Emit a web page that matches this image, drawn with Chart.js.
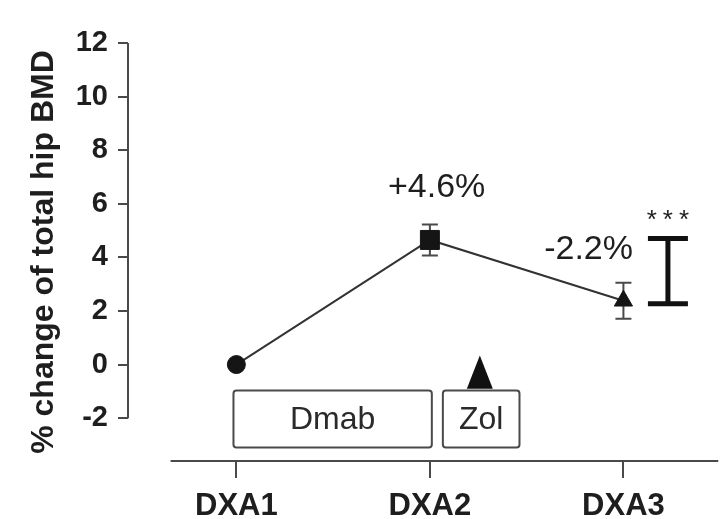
<!DOCTYPE html>
<html>
<head>
<meta charset="utf-8">
<script src="https://cdn.jsdelivr.net/npm/chart.js@4"></script>
<style>
  html, body { margin: 0; padding: 0; background: #fff; }
  #wrap { width: 722px; height: 519px; }
</style>
</head>
<body>
<div id="wrap"><canvas id="bmdChart"></canvas></div>
<script>
// Data
const visits = ['DXA1', 'DXA2', 'DXA3'];
const visitX = [1, 2, 3];
const bmdChange = [0, 4.65, 2.38];
const bmdErr = [0, 0.58, 0.67];
const yTicks = [-2, 0, 2, 4, 6, 8, 10, 12];

// Axis ranges (data units)
const xRange = [0.44, 3.45];
const yRange = [-3.6, 12];
const xAxisSpan = [0.66, 3.49];

// Annotations (data units)
const pctLabels = ['+4.6%', '-2.2%'];
const pctX = [2.035, 2.82];
const pctY = [6.6, 4.29];
const bracketX = 3.23;
const bracketY = [4.7, 2.27];
const starsY = 5.1;
const boxLabels = ['Dmab', 'Zol'];
const boxStart = [0.985, 2.067];
const boxEnd = [2.01, 2.463];
const boxY = [-0.97, -3.1];
const zolX = 2.258;
const zolY = [0.34, -0.9];

const ink = '#1e1e1e';
const grey = '#4a4a4a';
const font = '"Liberation Sans", Arial, sans-serif';

// Helper to draw the extra marks
const extras = {
    id: 'extras',
    beforeDatasetsDraw(chart) {
        const { ctx, scales: { x, y } } = chart;
        ctx.save();
        ctx.strokeStyle = grey;
        ctx.lineWidth = 2;
        // axis spines
        ctx.beginPath();
        ctx.moveTo(chart.chartArea.left, y.getPixelForValue(12));
        ctx.lineTo(chart.chartArea.left, y.getPixelForValue(-2));
        ctx.moveTo(x.getPixelForValue(xAxisSpan[0]), chart.chartArea.bottom);
        ctx.lineTo(x.getPixelForValue(xAxisSpan[1]), chart.chartArea.bottom);
        ctx.stroke();
        // error bars
        for (let i = 0; i < visitX.length; i++) {
            if (!bmdErr[i]) continue;
            const px = x.getPixelForValue(visitX[i]);
            const top = y.getPixelForValue(bmdChange[i] + bmdErr[i]);
            const bot = y.getPixelForValue(bmdChange[i] - bmdErr[i]);
            ctx.beginPath();
            ctx.moveTo(px, top); ctx.lineTo(px, bot);
            ctx.moveTo(px - 8, top); ctx.lineTo(px + 8, top);
            ctx.moveTo(px - 8, bot); ctx.lineTo(px + 8, bot);
            ctx.stroke();
        }
        ctx.restore();
    },
    afterDraw(chart) {
        const { ctx, scales: { x, y } } = chart;
        ctx.save();
        ctx.fillStyle = ink;
        ctx.textAlign = 'center';
        ctx.textBaseline = 'middle';
        ctx.font = '34px ' + font;
        for (let i = 0; i < pctLabels.length; i++) {
            ctx.fillText(pctLabels[i], x.getPixelForValue(pctX[i]), y.getPixelForValue(pctY[i]));
        }

        // significance bracket
        const bx = x.getPixelForValue(bracketX);
        const bt = y.getPixelForValue(bracketY[0]);
        const bb = y.getPixelForValue(bracketY[1]);
        ctx.strokeStyle = '#111';
        ctx.lineWidth = 5;
        ctx.beginPath();
        ctx.moveTo(bx, bt); ctx.lineTo(bx, bb);
        ctx.moveTo(bx - 20, bt); ctx.lineTo(bx + 20, bt);
        ctx.moveTo(bx - 20, bb); ctx.lineTo(bx + 20, bb);
        ctx.stroke();
        ctx.font = '26px ' + font;
        ctx.textBaseline = 'alphabetic';
        ctx.letterSpacing = '6px';
        ctx.fillText('***', bx + 3, y.getPixelForValue(starsY));
        ctx.letterSpacing = '0px';

        // treatment boxes
        ctx.lineWidth = 2;
        ctx.strokeStyle = grey;
        ctx.textBaseline = 'middle';
        ctx.font = '32px ' + font;
        for (let i = 0; i < boxLabels.length; i++) {
            const l = x.getPixelForValue(boxStart[i]);
            const r = x.getPixelForValue(boxEnd[i]);
            const t = y.getPixelForValue(boxY[0]);
            const b = y.getPixelForValue(boxY[1]);
            ctx.fillStyle = '#fff';
            ctx.beginPath();
            ctx.roundRect(l, t, r - l, b - t, 3);
            ctx.fill();
            ctx.stroke();
            ctx.fillStyle = '#2a2a2a';
            ctx.fillText(boxLabels[i], (l + r) / 2, (t + b) / 2 + 1);
        }

        // zoledronate infusion marker
        const zx = x.getPixelForValue(zolX);
        const zt = y.getPixelForValue(zolY[0]);
        const zb = y.getPixelForValue(zolY[1]);
        ctx.fillStyle = '#111';
        ctx.beginPath();
        ctx.moveTo(zx, zt);
        ctx.lineTo(zx + 13, zb);
        ctx.lineTo(zx - 13, zb);
        ctx.closePath();
        ctx.fill();
        ctx.restore();
    }
};

const ctx = document.getElementById('bmdChart').getContext('2d');
const bmdChart = new Chart(ctx, {
    type: 'line',
    data: {
        datasets: [{
            data: visitX.map((v, i) => ({ x: v, y: bmdChange[i] })),
            borderColor: '#333',
            borderWidth: 2,
            pointStyle: ['circle', 'rect', 'triangle'],
            pointRadius: [9, 13.4, 10.5],
            pointBackgroundColor: '#151515',
            pointBorderColor: '#151515',
            pointBorderWidth: 1,
            fill: false,
            tension: 0,
        }],
    },
    options: {
        responsive: true,
        maintainAspectRatio: false,
        animation: false,
        layout: { padding: { top: 43, right: 0, left: 0, bottom: 0 } },
        plugins: { legend: { display: false }, tooltip: { enabled: false } },
        scales: {
            x: {
                type: 'linear',
                min: xRange[0],
                max: xRange[1],
                afterBuildTicks: (s) => { s.ticks = visitX.map(v => ({ value: v })); },
                afterFit: (s) => { s.height = 58; },
                border: { display: false },
                grid: { drawOnChartArea: false, drawTicks: true, tickLength: 17, color: grey, lineWidth: 2 },
                ticks: {
                    callback: (v) => visits[visitX.indexOf(v)],
                    color: ink,
                    padding: 10,
                    maxRotation: 0,
                    font: { family: font, size: 31, weight: 'bold' },
                },
            },
            y: {
                min: yRange[0],
                max: yRange[1],
                afterBuildTicks: (s) => { s.ticks = yTicks.map(v => ({ value: v })); },
                afterFit: (s) => { s.width = 128; },
                border: { display: false },
                grid: { drawOnChartArea: false, drawTicks: true, tickLength: 10, color: grey, lineWidth: 2 },
                ticks: {
                    color: ink,
                    padding: 10,
                    font: { family: font, size: 29, weight: 'bold' },
                },
                title: {
                    display: true,
                    text: '% change of total hip BMD',
                    color: ink,
                    padding: { top: 25, bottom: 0 },
                    font: { family: font, size: 32, weight: 'bold' },
                },
            },
        },
    },
    plugins: [extras],
});
</script>
</body>
</html>
